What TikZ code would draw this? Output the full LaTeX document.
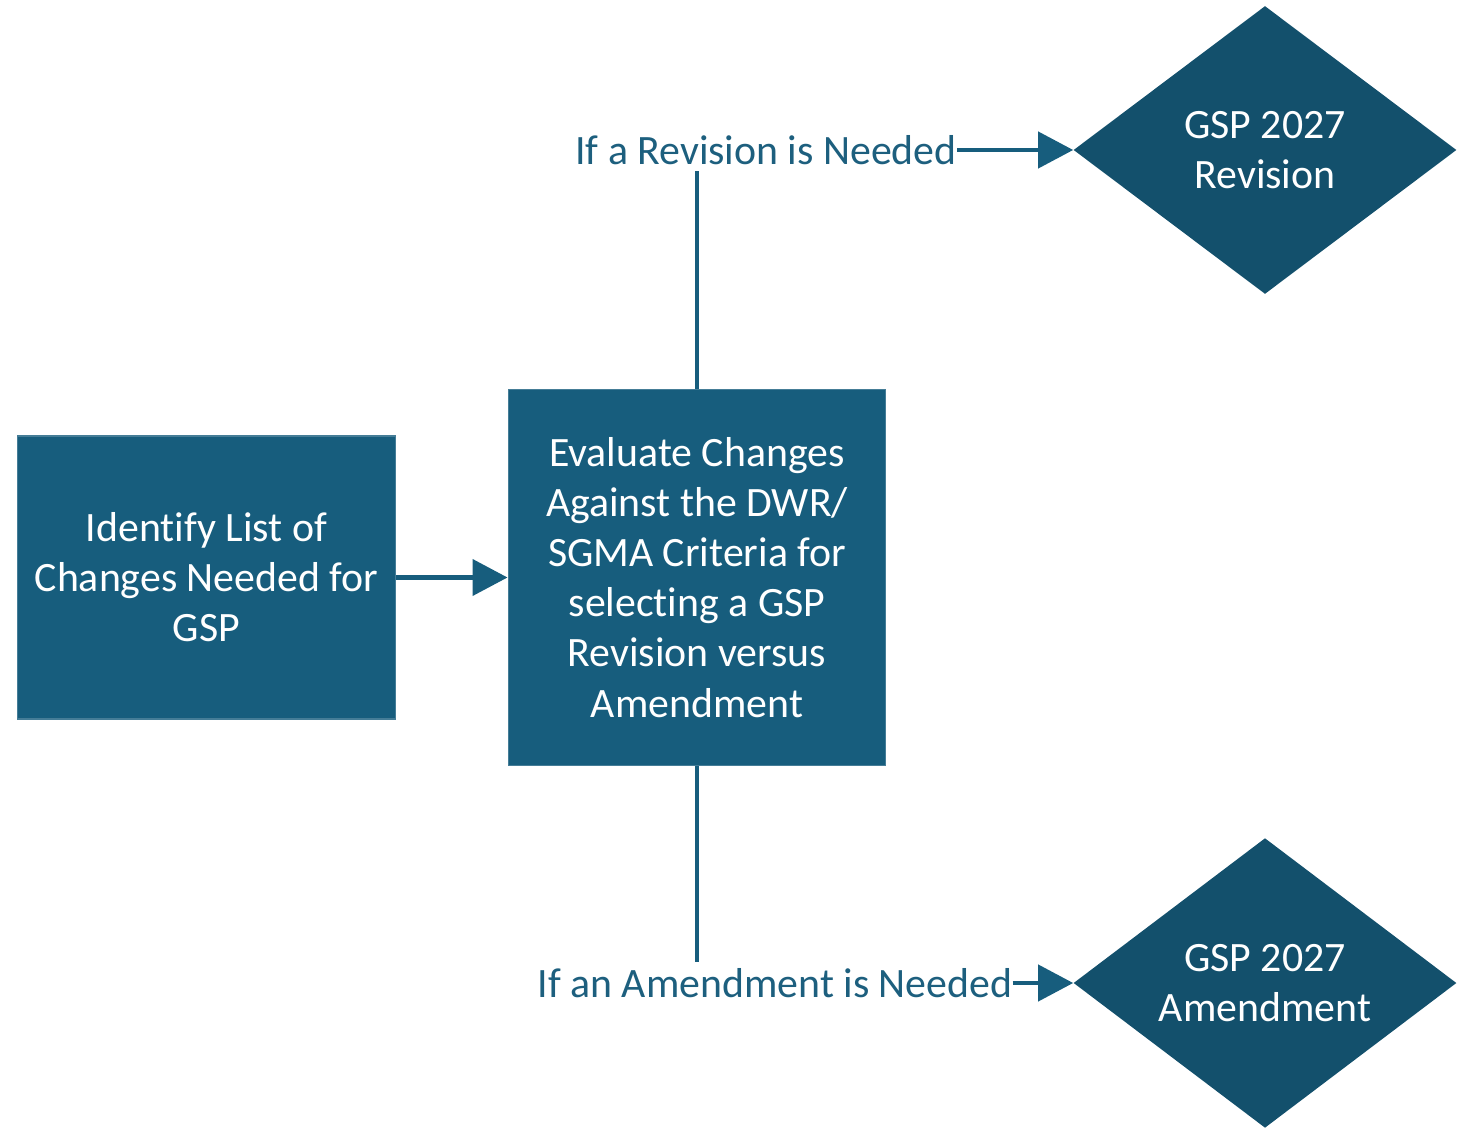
\documentclass[tikz,border=0pt]{standalone}
\usepackage{fontspec}
\setmainfont{Carlito}[Ligatures={NoCommon}]
\usetikzlibrary{positioning,arrows.meta,shapes.geometric}

\definecolor{boxblue}{HTML}{175D7D}
\definecolor{diablue}{HTML}{13506C}
\definecolor{lblblue}{HTML}{1D5F7E}

\begin{document}
\begin{tikzpicture}[
  x=0.02cm, y=-0.02cm,
  txt/.style={font=\fontsize{23.8}{28.5}\selectfont, align=center},
  box/.style={txt, fill=boxblue, draw=boxblue!80!white, line width=0.6pt, text=white, inner sep=0pt},
  dia/.style={txt, diamond, fill=diablue, text=white, inner sep=0pt, minimum width=7.66cm, minimum height=5.76cm},
  lbl/.style={txt, text=lblblue, inner xsep=0pt, inner ysep=3.5pt},
  con/.style={draw=boxblue, line width=2.4pt},
  arr/.style={con, -{Triangle[length=7mm,width=7.2mm]}}
]
\useasboundingbox (0,0) rectangle (1468,1128);
% left: list of changes
\node[box, minimum width=7.58cm, minimum height=5.66cm] (ident) at (206.5,577.5) {Identify List of\\Changes Needed for\\GSP};
% middle: evaluation step
\node[box, minimum width=7.56cm, minimum height=7.54cm] (eval) at (697,577.5) {Evaluate Changes\\Against the DWR/\\SGMA Criteria for\\selecting a GSP\\Revision versus\\Amendment};
% outcome labels
\node[lbl] (revlbl) at (766,150) {If a Revision is Needed};
\node[lbl] (amdlbl) at (775,983) {If an Amendment is Needed};
% right: outcomes
\node[dia] (rev) at (1265,150) {GSP 2027\\Revision};
\node[dia] (amd) at (1265,983) {GSP 2027\\Amendment};
% connectors
\draw[arr] (ident.east) -- (eval.west);
\draw[con] (eval.north) -- (eval.north |- revlbl.south);
\draw[con] (eval.south) -- (eval.south |- amdlbl.north);
\draw[arr] (revlbl.east) -- (rev.west);
\draw[arr] (amdlbl.east) -- (amd.west);
\end{tikzpicture}
\end{document}
